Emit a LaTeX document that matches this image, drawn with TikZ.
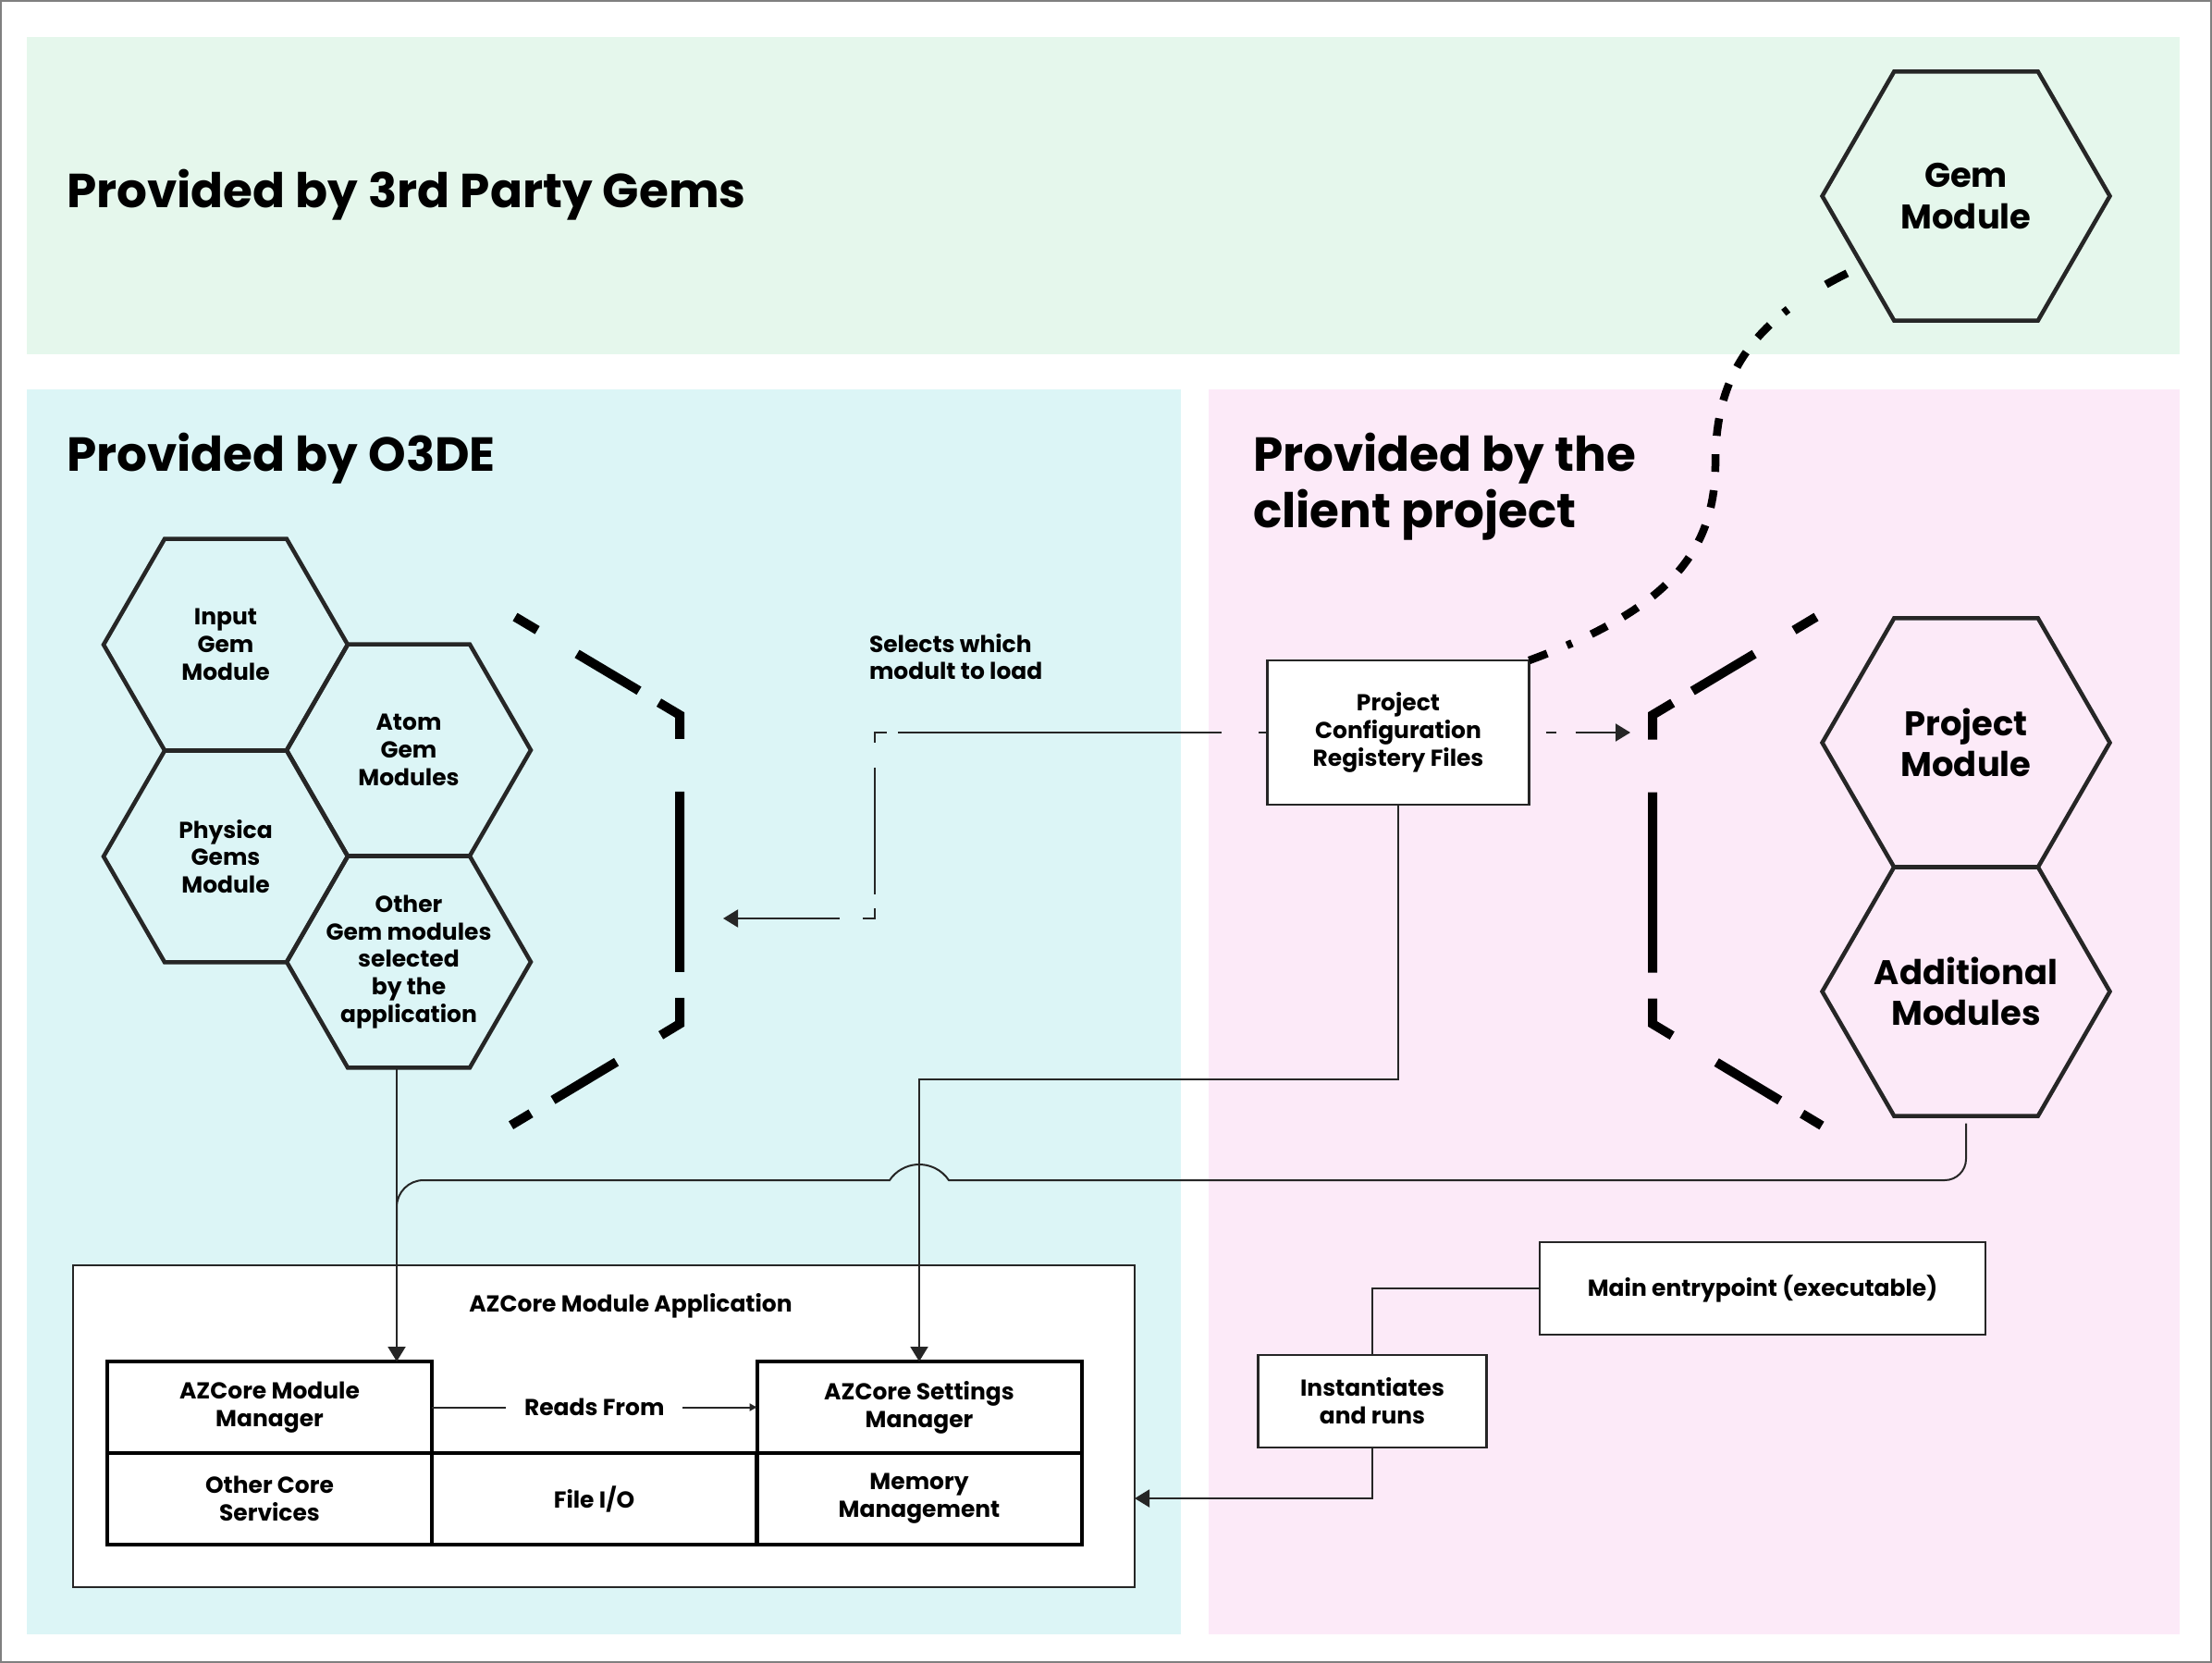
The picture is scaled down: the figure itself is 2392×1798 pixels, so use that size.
\documentclass[tikz,border=0pt]{standalone}
\usepackage{fontspec}
\setmainfont{Poppins}
\usetikzlibrary{shapes.geometric,arrows.meta}
\definecolor{gemgreen}{RGB}{229,247,236}
\definecolor{o3decyan}{RGB}{220,245,246}
\definecolor{clientpink}{RGB}{252,234,248}
\definecolor{inkgray}{RGB}{38,38,38}
\newcommand{\ttlfont}{\fontsize{14.7}{17.4}\selectfont\bfseries}
\newcommand{\hexbigfont}{\fontsize{10.5}{12.7}\selectfont\bfseries}
\newcommand{\smallfont}{\fontsize{7.1}{8.5}\selectfont\bfseries}

\begin{document}
\begin{tikzpicture}[x=0.1mm,y=0.1mm,
    hexsmall/.style={regular polygon,regular polygon sides=6,minimum size=26.4mm,draw=inkgray,line width=0.45mm},
    hexbig/.style={regular polygon,regular polygon sides=6,minimum size=31.1mm,draw=inkgray,line width=0.45mm},
    hextext/.style={align=center,font=\smallfont},
    hexbigtext/.style={align=center,font=\hexbigfont},
    textbox/.style={rectangle,draw=inkgray,line width=0.25mm,fill=white,align=center,font=\smallfont},
    corecell/.style={rectangle,draw=black,line width=0.4mm,fill=white,minimum width=35.1mm,minimum height=9.9mm,align=center,font=\smallfont},
    conn/.style={draw=inkgray,line width=0.2mm},
    endtip/.style={-{Triangle[length=1.6mm,width=1.9mm]}},
    brk/.style={line width=1mm,dash pattern=on 2.8mm off 5mm on 7.8mm off 2.5mm on 5.2mm off 5.7mm on 19.5mm off 2.8mm on 5.2mm off 5.6mm on 8mm off 2.8mm on 2.5mm off 5mm},
    selpath/.style={conn,dash pattern=on 1mm off 4mm on 35mm off 1.2mm on 2.4mm off 2.7mm on 13.7mm off 1.5mm on 2.4mm off 2.5mm on 20mm off 1mm},
    gemlink/.style={line width=0.85mm,dash pattern=on 2.1mm off 2.3mm on 0.6mm off 2.3mm on 1.9mm off 2mm on 1.9mm off 2mm on 1.9mm off 2mm on 1.9mm off 2mm on 1.9mm off 2mm on 1.9mm off 2mm on 1.9mm off 2mm on 1.9mm off 2mm on 1.9mm off 2mm on 1.9mm off 2mm on 1.9mm off 2mm on 0.6mm off 4.9mm on 2.6mm off 5mm}]
  \tikzstyle{every node}+=[inner sep=0pt,outer sep=0pt]
  \useasboundingbox (0,0) rectangle (2392,-1798);
  \fill [gemgreen] (29,-40) rectangle (2357,-383);
  \fill [o3decyan] (29,-421) rectangle (1277,-1767);
  \fill [clientpink] (1307,-421) rectangle (2357,-1767);
  \draw [gray,line width=0.25mm] (1,-1) rectangle (2391,-1797);
  \node [anchor=base west,font=\ttlfont] (t3rd) at (72,-225) {Provided by 3rd Party Gems};
  \node [anchor=base west,font=\ttlfont] (to3de) at (72,-510) {Provided by O3DE};
  \node [anchor=base west,font=\ttlfont,align=left] (tclient) at (1355,-571) {Provided by the\\client project};
  \node [hexbig] (gem) at (2126,-212) {};
  \node [hexbig] (projm) at (2126,-803) {};
  \node [hexbig] (addm) at (2126,-1072) {};
  \node [hexbigtext] (gemtxt) at (gem) {Gem\\Module};
  \node [hexbigtext] (projmtxt) at (projm) {Project\\Module};
  \node [hexbigtext] (addmtxt) at (addm) {Additional\\Modules};
  \node [hexsmall] (input) at (244,-697) {};
  \node [hexsmall] (atom) at (442,-811) {};
  \node [hexsmall] (physica) at (244,-926) {};
  \node [hexsmall] (other) at (442,-1040) {};
  \node [hextext] (inputtxt) at (input) {Input\\Gem\\Module};
  \node [hextext] (atomtxt) at (atom) {Atom\\Gem\\Modules};
  \node [hextext] (physicatxt) at (physica) {Physica\\Gems\\Module};
  \node [hextext] (othertxt) at (other) {Other\\Gem modules\\selected\\by the\\application};
  \draw [brk] (557,-667) -- (735,-773) -- (735,-1107) -- (552,-1217);
  \draw [brk] (1964,-667) -- (1787,-773) -- (1787,-1107) -- (1970,-1217);
  \node [anchor=base west,font=\smallfont,align=left] (sellbl) at (940,-735) {Selects which\\modult to load};
  \node [textbox,minimum width=28.3mm,minimum height=15.6mm] (cfg) at (1512,-792) {Project\\Configuration\\Registery Files};
  \node [textbox,minimum width=48.2mm,minimum height=10mm] (mainep) at (1906,-1393) {Main entrypoint (executable)};
  \node [textbox,minimum width=24.7mm,minimum height=10mm] (inst) at (1484,-1515) {Instantiates\\and runs};
  \node [textbox,minimum width=114.8mm,minimum height=34.8mm] (app) at (653,-1542) {};
  \node [font=\smallfont] (applbl) at (682,-1412) {AZCore Module Application};
  \node [corecell] (modmgr) at (291.5,-1521.5) {AZCore Module\\Manager};
  \node [corecell] (setmgr) at (994,-1521.5) {AZCore Settings\\Manager};
  \node [corecell] (othcore) at (291.5,-1620.5) {Other Core\\Services};
  \node [corecell] (fileio) at (642.5,-1620.5) {File I/O};
  \node [corecell] (memmgmt) at (994,-1620.5) {Memory\\Management};
  \coordinate (lbrk) at (782,-993);
  \coordinate (rbrk) at (1763,-792);
  \coordinate (appin) at (1227,-1620);
  \draw [gemlink] (cfg.north east) .. controls (1800,-660) and (1855,-600) .. (1855,-500) .. controls (1855,-400) and (1900,-340) .. (gem.214);
  \draw [selpath,endtip] (cfg.west) -- ++(-425,0) |- (lbrk);
  \draw [conn,endtip,dash pattern=on 1.1mm off 2.1mm on 10mm off 1mm,shorten <=1.8mm] (cfg.east) -- (rbrk);
  \draw [conn,endtip] (cfg.south) -- ++(0,-297) -| (setmgr.north);
  \draw [conn,endtip] ([xshift=-1.3mm]other.south) -- ([xshift=-1.3mm]other.south |- modmgr.north);
  \draw [conn,shorten <=0.8mm] (addm.south) -- (2126,-1253) arc [start angle=0,end angle=-90,radius=2.3mm] -- (1026,-1276) arc [start angle=34,end angle=146,radius=3.86mm] -- (458,-1276) arc [start angle=90,end angle=180,radius=2.9mm] -- (429,-1330);
  \draw [conn] (mainep.west) -| (inst.north);
  \draw [conn,endtip] (inst.south) |- (appin);
  \draw [conn,-{Triangle[length=0.8mm,width=0.8mm]}] (modmgr.east) -- (setmgr.west) node [midway,fill=white,font=\smallfont,inner xsep=2mm,inner ysep=0.5mm] (readsf) {Reads From};
\end{tikzpicture}
\end{document}
